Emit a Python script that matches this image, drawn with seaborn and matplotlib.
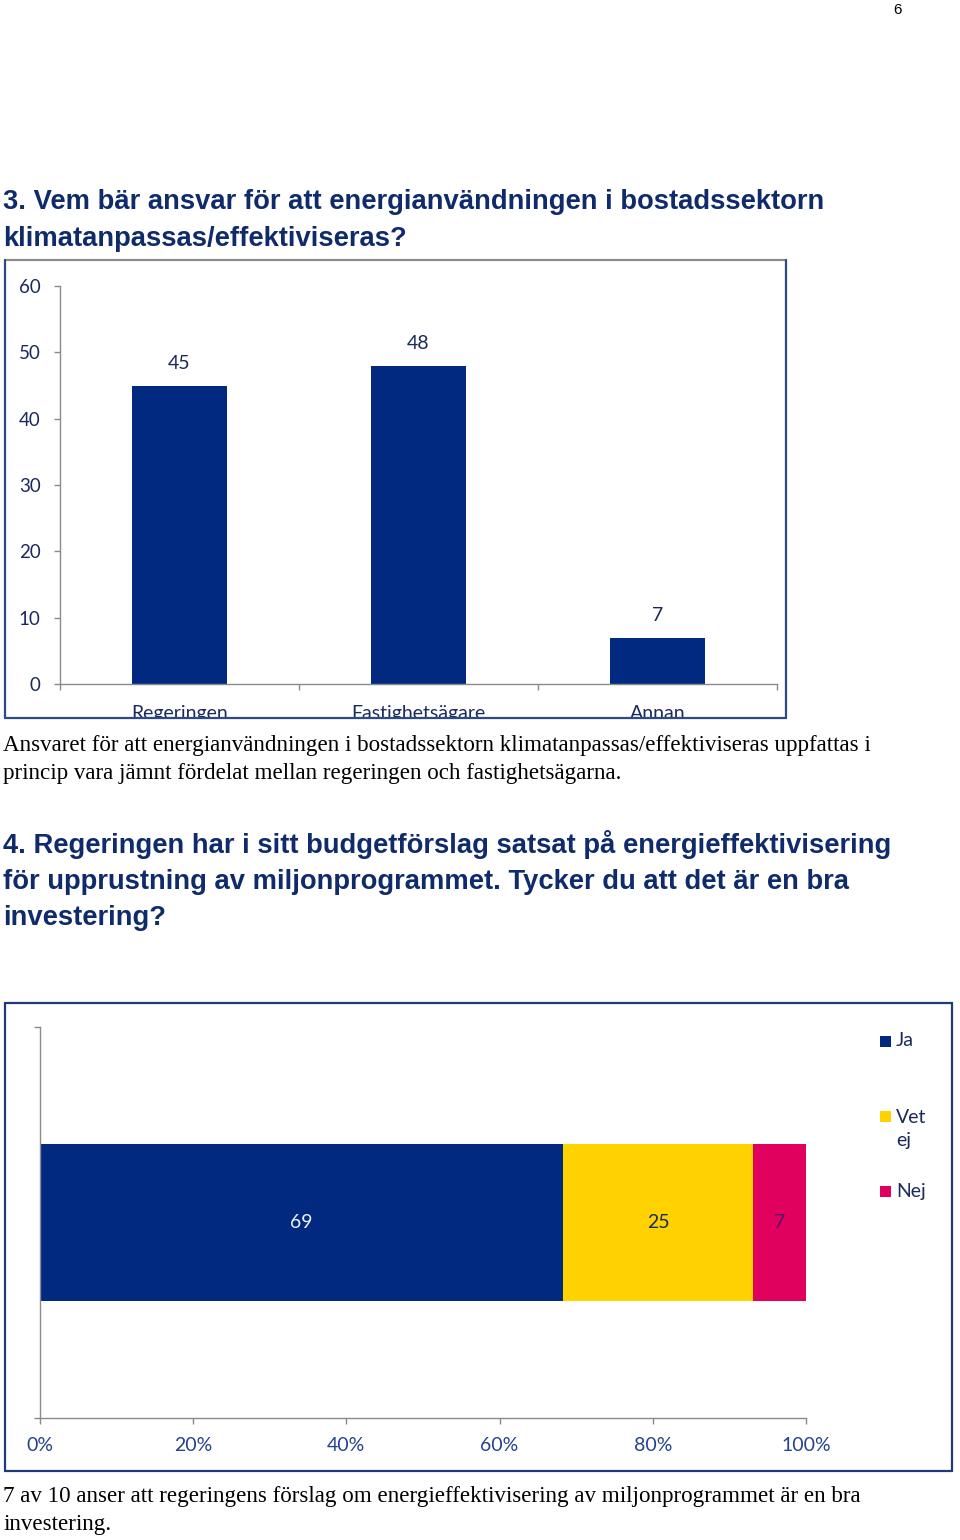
import numpy as np
import pandas as pd
import matplotlib
matplotlib.use("Agg")
import matplotlib.pyplot as plt
from matplotlib.patches import Rectangle
from matplotlib.lines import Line2D
import seaborn as sns

# ---------------- data ----------------
categories = ["Regeringen", "Fastighetsägare", "Annan"]
values = [45, 48, 7]
y_ticks = [0, 10, 20, 30, 40, 50, 60]

responses = ["Ja", "Vet ej", "Nej"]
counts = [69, 25, 7]
x_ticks = [0, 20, 40, 60, 80, 100]
x_ticklabels = ["0%", "20%", "40%", "60%", "80%", "100%"]

heading1 = ["3. Vem bär ansvar för att energianvändningen i bostadssektorn",
            "klimatanpassas/effektiviseras?"]
body1 = ["Ansvaret för att energianvändningen i bostadssektorn klimatanpassas/effektiviseras uppfattas i",
         "princip vara jämnt fördelat mellan regeringen och fastighetsägarna."]
heading2 = ["4. Regeringen har i sitt budgetförslag satsat på energieffektivisering",
            "för upprustning av miljonprogrammet. Tycker du att det är en bra",
            "investering?"]
body2 = ["7 av 10 anser att regeringens förslag om energieffektivisering av miljonprogrammet är en bra",
         "investering."]
page_number = "6"

# ---------------- style ----------------
NAVY = "#00297f"
YELLOW = "#ffd200"
PINK = "#e0005e"
seg_colors = [NAVY, YELLOW, PINK]
seg_label_colors = ["#eef2fa", "#1b2a5c", "#5a1464"]
TXT = "#1b2a5c"
TICKTXT2 = "#23428f"
GRAY = "#8a8a8a"
HEAD = "#0f2b6b"
BORDER = "#2c4a86"
CFS = 14  # chart font size

sns.set_theme(style="white")
plt.rcParams["font.family"] = ["Lato", "DejaVu Sans"]

W, H = 960, 1540
fig = plt.figure(figsize=(W / 100, H / 100), dpi=100)
fig.patch.set_facecolor("white")


def fx(x):
    return x / W


def fy(y):
    return 1 - y / H


# ---------------- texts ----------------
fig.text(fx(897), fy(14), page_number, fontsize=11, family="Liberation Sans",
         color="black", ha="center", va="baseline")

hsize = 19.7
for i, line in enumerate(heading1):
    fig.text(fx(3), fy(209 + 36.5 * i), line, fontsize=hsize, fontweight="bold",
             family="Liberation Sans", color=HEAD, ha="left", va="baseline")
for i, line in enumerate(heading2):
    fig.text(fx(3), fy(853 + 36 * i), line, fontsize=hsize, fontweight="bold",
             family="Liberation Sans", color=HEAD, ha="left", va="baseline")

bsize = 16.6
for i, line in enumerate(body1):
    fig.text(fx(3), fy(751 + 28 * i), line, fontsize=bsize, family="Liberation Serif",
             color="black", ha="left", va="baseline")
for i, line in enumerate(body2):
    fig.text(fx(3), fy(1502 + 28 * i), line, fontsize=bsize, family="Liberation Serif",
             color="black", ha="left", va="baseline")

# ---------------- chart 1 ----------------
ax1 = fig.add_axes([fx(60), fy(684), (777 - 60) / W, (684 - 286) / H])
df1 = pd.DataFrame({"cat": categories, "val": values})
sns.barplot(data=df1, x="cat", y="val", color=NAVY, width=0.4, saturation=1,
            linewidth=0, ax=ax1)
ax1.set_xlim(-0.5, len(categories) - 0.5)
ax1.set_ylim(y_ticks[0], y_ticks[-1])
ax1.set_yticks(y_ticks)
ax1.set_yticklabels([str(t) for t in y_ticks])
ax1.set_xlabel("")
ax1.set_ylabel("")
ax1.bar_label(ax1.containers[0], padding=10, fontsize=CFS, color=TXT)
sns.despine(ax=ax1)
for s in ["left", "bottom"]:
    ax1.spines[s].set_color(GRAY)
    ax1.spines[s].set_linewidth(1.0)
ax1.tick_params(axis="y", length=4, width=1, color=GRAY, labelcolor=TXT,
                labelsize=13.5, pad=10, left=True)
ax1.tick_params(axis="x", which="major", length=0, labelcolor=TXT, labelsize=CFS, pad=15)
ax1.set_xticks(np.arange(-0.5, len(categories), 1.0), minor=True)
ax1.tick_params(axis="x", which="minor", length=4, width=1, color=GRAY, bottom=True)
ax1.grid(False)

# white mask to cut category labels at the chart border
fig.add_artist(Rectangle((fx(6), fy(733)), (786 - 6) / W, (733 - 719) / H,
                         transform=fig.transFigure, facecolor="white",
                         edgecolor="none", zorder=5))

# border chart 1
lw_b = 1.6
fig.add_artist(Line2D([fx(5), fx(786)], [fy(260), fy(260)], transform=fig.transFigure,
                      color="#8c8c8c", lw=lw_b, zorder=6))
fig.add_artist(Line2D([fx(5), fx(5)], [fy(260), fy(718)], transform=fig.transFigure,
                      color=BORDER, lw=lw_b, zorder=6))
fig.add_artist(Line2D([fx(786), fx(786)], [fy(260), fy(718)], transform=fig.transFigure,
                      color=BORDER, lw=lw_b, zorder=6))
fig.add_artist(Line2D([fx(5), fx(786)], [fy(718), fy(718)], transform=fig.transFigure,
                      color=BORDER, lw=lw_b, zorder=6))

# ---------------- chart 2 ----------------
ax2 = fig.add_axes([fx(40), fy(1418), (806 - 40) / W, (1418 - 1027) / H])
counts_arr = np.array(counts, dtype=float)
shares = counts_arr / counts_arr.sum() * 100
cum = np.cumsum(shares)
starts = cum - shares
for i in reversed(range(len(responses))):
    sns.barplot(x=[cum[i]], y=["q"], orient="h", color=seg_colors[i], width=0.4,
                saturation=1, linewidth=0, ax=ax2)
for i in range(len(responses)):
    ax2.text(starts[i] + shares[i] / 2, 0, str(counts[i]), ha="center", va="center",
             fontsize=CFS, color=seg_label_colors[i])
ax2.set_xlim(0, 100)
ax2.set_ylim(0.5, -0.5)
ax2.set_xticks(x_ticks)
ax2.set_xticklabels(x_ticklabels)
ax2.set_yticks([])
ax2.set_yticks([-0.5, 0.5], minor=True)
ax2.set_xlabel("")
ax2.set_ylabel("")
sns.despine(ax=ax2)
for s in ["left", "bottom"]:
    ax2.spines[s].set_color(GRAY)
    ax2.spines[s].set_linewidth(1.0)
ax2.tick_params(axis="x", length=4, width=1, color=GRAY, labelcolor=TICKTXT2,
                labelsize=CFS, pad=10, bottom=True)
ax2.tick_params(axis="y", which="minor", length=4, width=1, color=GRAY, left=True)
ax2.grid(False)

# legend chart 2 (manual)
leg_y = [1041, 1129, 1191]
for i, lab in enumerate(responses):
    text = lab.replace(" ", "\n")
    nlines = text.count("\n") + 1
    sq_y = leg_y[i] - (nlines - 1) * 13
    fig.add_artist(Rectangle((fx(880), fy(sq_y + 5.5)), 11 / W, 11 / H,
                             transform=fig.transFigure, facecolor=seg_colors[i],
                             edgecolor="none"))
    fig.text(fx(896), fy(leg_y[i]), text, fontsize=CFS, color=TXT, ha="left",
             va="center", linespacing=1.4, multialignment="left")

# border chart 2
for xs, ys in [([5, 952], [1003, 1003]), ([5, 952], [1471, 1471]),
               ([5, 5], [1003, 1471]), ([952, 952], [1003, 1471])]:
    fig.add_artist(Line2D([fx(v) for v in xs], [fy(v) for v in ys],
                          transform=fig.transFigure, color="#203a78", lw=lw_b, zorder=6))

fig.savefig("out.png", dpi=100, facecolor="white")
